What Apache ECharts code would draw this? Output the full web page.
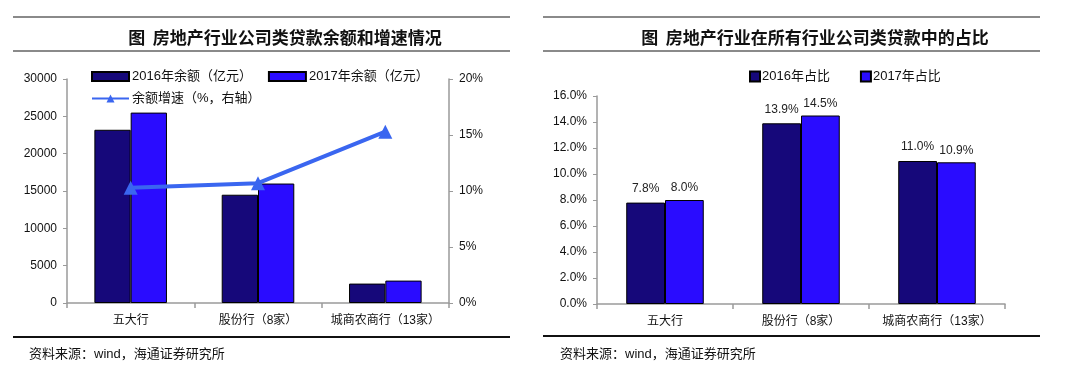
<!DOCTYPE html>
<html><head><meta charset="utf-8">
<script src="https://cdn.jsdelivr.net/npm/echarts@6/dist/echarts.min.js"></script>
<style>html,body{margin:0;padding:0;background:#fff}#c{width:1080px;height:373px}</style>
</head><body><div id="c"></div>
<script>
const categories = ['五大行', '股份行（8家）', '城商农商行（13家）'];
const balance2016 = [23200, 14500, 2600];
const balance2017 = [25500, 16000, 3000];
const growthRate = [10.3, 10.7, 15.3];
const share2016 = [7.8, 13.9, 11.0];
const share2017 = [8.0, 14.5, 10.9];
const leftTicks = { min: 0, max: 30000, interval: 5000 };
const rightTicks = { min: 0, max: 20, interval: 5 };
const shareTicks = { min: 0, max: 16, interval: 2 };

const FONT = '"Liberation Sans", Arial, "Noto Sans CJK SC", sans-serif';
const C16 = '#16087a', C17 = '#2a0cff', CLINE = '#3a66f0';
const axisLine = { show: true, lineStyle: { color: '#9a9a9a', width: 1.5 } };
const lbl = { color: '#111', fontSize: 12, fontFamily: FONT };

const chart = echarts.init(document.getElementById('c'));
const hline = (x1, x2, y, color) => ({ type: 'line', shape: { x1, y1: y, x2, y2: y }, style: { stroke: color, lineWidth: 2 } });
chart.setOption({
  animation: false,
  textStyle: { fontFamily: FONT },
  title: [
    { text: '图  房地产行业公司类贷款余额和增速情况', left: 280, top: 24, textAlign: 'center',
      textStyle: { fontSize: 17, fontWeight: 'bold', color: '#111', fontFamily: '"Noto Sans CJK SC", sans-serif' } },
    { text: '图  房地产行业在所有行业公司类贷款中的占比', left: 810, top: 24, textAlign: 'center',
      textStyle: { fontSize: 17, fontWeight: 'bold', color: '#111', fontFamily: '"Noto Sans CJK SC", sans-serif' } },
    { text: '资料来源：wind，海通证券研究所', left: 24, top: 343, textStyle: { fontSize: 13, fontWeight: 'normal', color: '#111', fontFamily: FONT } },
    { text: '资料来源：wind，海通证券研究所', left: 555, top: 343, textStyle: { fontSize: 13, fontWeight: 'normal', color: '#111', fontFamily: FONT } }
  ],
  graphic: [
    hline(13, 510, 17, '#8a8a8a'), hline(13, 510, 51, '#8a8a8a'), hline(13, 510, 337, '#111'),
    hline(543, 1040, 17, '#8a8a8a'), hline(543, 1040, 51, '#8a8a8a'), hline(543, 1040, 336, '#111')
  ],
  legend: [
    { data: [{ name: '2016年余额（亿元）', icon: 'rect' }, { name: '2017年余额（亿元）', icon: 'rect' }], left: 86, top: 65,
      itemWidth: 37, itemHeight: 9, itemGap: 16,
      textStyle: { fontSize: 13, color: '#111', fontFamily: FONT, padding: [0, 0, 0, -2] } },
    { data: ['余额增速（%，右轴）'], left: 86, top: 87, itemWidth: 37, itemHeight: 10,
      textStyle: { fontSize: 13, color: '#111', fontFamily: FONT, padding: [0, 0, 0, -2] } },
    { data: [{ name: '2016年占比', icon: 'rect' }, { name: '2017年占比', icon: 'rect' }], left: 744, top: 65,
      itemWidth: 10, itemHeight: 10, itemGap: 30,
      textStyle: { fontSize: 13, color: '#111', fontFamily: FONT, padding: [0, 0, 0, -3] } }
  ],
  grid: [
    { left: 67, right: 631, top: 79, bottom: 70 },
    { left: 597, right: 75, top: 96, bottom: 69 }
  ],
  xAxis: [
    { type: 'category', gridIndex: 0, data: categories, axisLine, axisTick: { show: true, length: 5, lineStyle: { color: '#9a9a9a', width: 1.5 } },
      axisLabel: Object.assign({}, lbl, { margin: 12, interval: 0 }) },
    { type: 'category', gridIndex: 1, data: categories, axisLine, axisTick: { show: true, length: 5, lineStyle: { color: '#9a9a9a', width: 1.5 } },
      axisLabel: Object.assign({}, lbl, { margin: 12, interval: 0 }) }
  ],
  yAxis: [
    { type: 'value', gridIndex: 0, min: leftTicks.min, max: leftTicks.max, interval: leftTicks.interval, axisLine,
      axisTick: { show: true, length: 4, lineStyle: { color: '#9a9a9a' } }, splitLine: { show: false },
      axisLabel: Object.assign({}, lbl, { margin: 10, formatter: v => String(v) }) },
    { type: 'value', gridIndex: 0, position: 'right', min: rightTicks.min, max: rightTicks.max, interval: rightTicks.interval, axisLine,
      axisTick: { show: true, length: 4, lineStyle: { color: '#9a9a9a' } }, splitLine: { show: false },
      axisLabel: Object.assign({}, lbl, { margin: 10, formatter: '{value}%' }) },
    { type: 'value', gridIndex: 1, min: shareTicks.min, max: shareTicks.max, interval: shareTicks.interval, axisLine,
      axisTick: { show: true, length: 4, lineStyle: { color: '#9a9a9a' } }, splitLine: { show: false },
      axisLabel: Object.assign({}, lbl, { margin: 10, formatter: v => v.toFixed(1) + '%' }) }
  ],
  series: [
    { name: '2016年余额（亿元）', type: 'bar', xAxisIndex: 0, yAxisIndex: 0, data: balance2016, barGap: '0%', barCategoryGap: '43%',
      itemStyle: { color: C16, borderColor: '#000', borderWidth: 1 } },
    { name: '2017年余额（亿元）', type: 'bar', xAxisIndex: 0, yAxisIndex: 0, data: balance2017, barGap: '0%', barCategoryGap: '43%',
      itemStyle: { color: C17, borderColor: '#000', borderWidth: 1 } },
    { name: '余额增速（%，右轴）', type: 'line', xAxisIndex: 0, yAxisIndex: 1, data: growthRate, symbol: 'triangle', symbolSize: 14,
      lineStyle: { color: CLINE, width: 4 }, itemStyle: { color: CLINE } },
    { name: '2016年占比', type: 'bar', xAxisIndex: 1, yAxisIndex: 2, data: share2016, barGap: '0%', barCategoryGap: '43%',
      itemStyle: { color: C16, borderColor: '#000', borderWidth: 1 },
      label: { show: true, position: 'top', distance: 8, formatter: p => p.value.toFixed(1) + '%', fontSize: 12, color: '#222', fontFamily: FONT } },
    { name: '2017年占比', type: 'bar', xAxisIndex: 1, yAxisIndex: 2, data: share2017, barGap: '0%', barCategoryGap: '43%',
      itemStyle: { color: C17, borderColor: '#000', borderWidth: 1 },
      label: { show: true, position: 'top', distance: 6, formatter: p => p.value.toFixed(1) + '%', fontSize: 12, color: '#222', fontFamily: FONT } }
  ]
});
</script></body></html>
